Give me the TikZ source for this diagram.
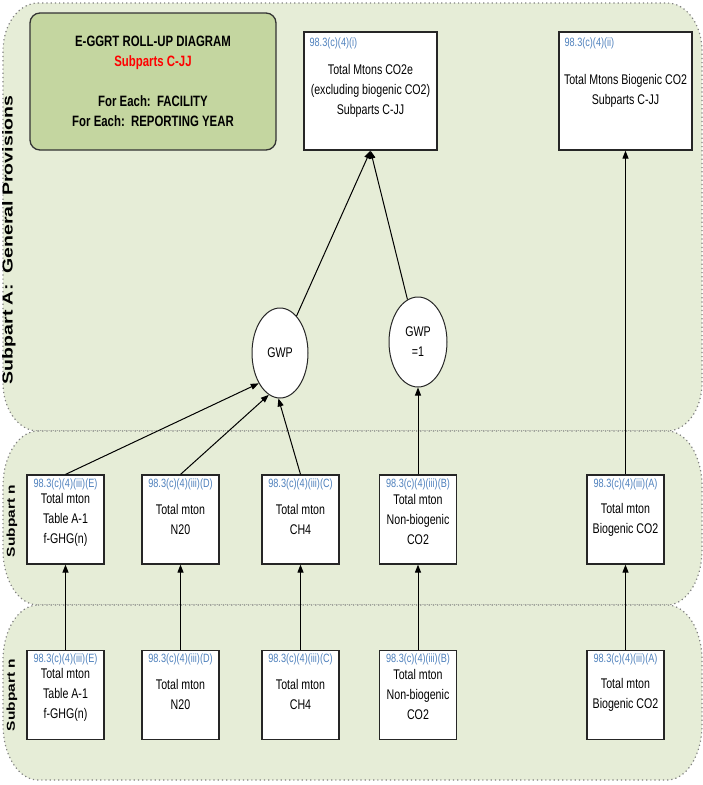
\documentclass[tikz,border=0pt]{standalone}
\usepackage{fontspec}
\usepackage{graphicx}
\setmainfont{Liberation Sans}
\newfontfamily\narrowsf{Liberation Sans}[FakeStretch=0.76]
\definecolor{bandgreen}{HTML}{E6EDD7}
\definecolor{titlegreen}{HTML}{C4D6A0}
\definecolor{codeblue}{HTML}{4F81BD}
\definecolor{titlered}{HTML}{FF0000}
\usetikzlibrary{shapes.geometric,arrows.meta,positioning}

\begin{document}
\begin{tikzpicture}[x=1pt, y=1pt,
  band/.style={draw=gray, line width=1.2pt, dash pattern=on 1.2pt off 3pt,
    fill=bandgreen, x radius=35},
  titlebox/.style={draw=black!80, fill=titlegreen, line width=1.3pt,
    rounded corners=10pt, minimum width=246pt, minimum height=137pt,
    align=center, font=\narrowsf\bfseries\fontsize{15}{20}\selectfont},
  box/.style={draw=black!85, fill=white, line width=1.2pt,
    minimum width=77pt, minimum height=89pt, align=center,
    font=\narrowsf\fontsize{14}{20}\selectfont},
  bigbox/.style={box, minimum width=133pt, minimum height=118pt},
  code/.style={text=codeblue, inner sep=1pt,
    font=\narrowsf\fontsize{12}{13}\selectfont},
  gwpnode/.style={ellipse, draw=black!85, fill=white, line width=1pt,
    minimum width=56pt, minimum height=90pt, inner sep=0pt, align=center,
    font=\narrowsf\fontsize{14}{20}\selectfont},
  arr/.style={-{Triangle[length=8pt,width=6pt]}, line width=1pt},
  side/.style={rotate=90, font=\bfseries\fontsize{#1}{#1}\selectfont}
]
  \useasboundingbox (0,0) rectangle (703,-785);

  % Bands
  \draw[band, y radius=48] (38,-3) -- (667,-3) arc[start angle=90, end angle=0]
    -- (702,-383) arc[start angle=0, end angle=-90]
    -- (38,-431) arc[start angle=270, end angle=180]
    -- (3,-51) arc[start angle=180, end angle=90] -- cycle;
  \draw[band, y radius=55] (38,-431) -- (667,-431) arc[start angle=90, end angle=0]
    -- (702,-550) arc[start angle=0, end angle=-90]
    -- (38,-605) arc[start angle=270, end angle=180]
    -- (3,-486) arc[start angle=180, end angle=90] -- cycle;
  \draw[band, y radius=55] (38,-605) -- (667,-605) arc[start angle=90, end angle=0]
    -- (702,-725) arc[start angle=0, end angle=-90]
    -- (38,-780) arc[start angle=270, end angle=180]
    -- (3,-660) arc[start angle=180, end angle=90] -- cycle;

  \node[side=19.5] (sideA) at (9,-240) {\scalebox{1}[0.74]{Subpart A:\ \ General Provisions}};
  \node[side=15.5] (sideN1) at (12,-521) {\scalebox{1}[0.74]{Subpart n}};
  \node[side=15.5] (sideN2) at (12,-695) {\scalebox{1}[0.74]{Subpart n}};

  % Title
  \node[titlebox] (title) at (153,-81.5) {E-GGRT ROLL-UP DIAGRAM\\
    \textcolor{titlered}{Subparts C-JJ}\\[20pt]
    For Each:\ \ FACILITY\\For Each:\ \ REPORTING YEAR};

  % Totals
  \node[bigbox] (co2e) at (370.5,-91) {Total Mtons CO2e\\(excluding biogenic CO2)\\Subparts C-JJ};
  \node[bigbox] (bio) at (625.5,-91) {Total Mtons Biogenic CO2\\Subparts C-JJ};
  \node[code, below right=5pt and 5pt of co2e.north west] (co2e-code) {98.3(c)(4)(i)};
  \node[code, below right=5pt and 5pt of bio.north west] (bio-code) {98.3(c)(4)(ii)};

  \node[gwpnode] (gwp) at (280,-353) {GWP};
  \node[gwpnode, minimum width=58pt] (gwp1) at (418,-342) {GWP\\=1};

  % Subpart rows
  \node[box] (mE) at (65.5,-519.5) {Total mton\\Table A-1\\f-GHG(n)};
  \node[box] (mD) at (180.5,-519.5) {Total mton\\N20};
  \node[box] (mC) at (300.5,-519.5) {Total mton\\CH4};
  \node[box] (mB) at (418,-519.5) {Total mton\\Non-biogenic\\CO2};
  \node[box] (mA) at (625.5,-519.5) {Total mton\\Biogenic CO2};

  \node[box, below=85pt of mE] (bE) {Total mton\\Table A-1\\f-GHG(n)};
  \node[box, below=85pt of mD] (bD) {Total mton\\N20};
  \node[box, below=85pt of mC] (bC) {Total mton\\CH4};
  \node[box, below=85pt of mB] (bB) {Total mton\\Non-biogenic\\CO2};
  \node[box, below=85pt of mA] (bA) {Total mton\\Biogenic CO2};

  \node[code, below=3pt of mE.north] (mE-code) {98.3(c)(4)(iii)(E)};
  \node[code, below=3pt of mD.north] (mD-code) {98.3(c)(4)(iii)(D)};
  \node[code, below=3pt of mC.north] (mC-code) {98.3(c)(4)(iii)(C)};
  \node[code, below=3pt of mB.north] (mB-code) {98.3(c)(4)(iii)(B)};
  \node[code, below=3pt of mA.north] (mA-code) {98.3(c)(4)(iii)(A)};
  \node[code, below=3pt of bE.north] (bE-code) {98.3(c)(4)(iii)(E)};
  \node[code, below=3pt of bD.north] (bD-code) {98.3(c)(4)(iii)(D)};
  \node[code, below=3pt of bC.north] (bC-code) {98.3(c)(4)(iii)(C)};
  \node[code, below=3pt of bB.north] (bB-code) {98.3(c)(4)(iii)(B)};
  \node[code, below=3pt of bA.north] (bA-code) {98.3(c)(4)(iii)(A)};

  % Roll-up arrows
  \draw[arr] (gwp) -- (co2e.south);
  \draw[arr] (gwp1) -- (co2e.south);
  \draw[arr] (mA) -- (bio);
  \draw[arr] (mE.north) -- (gwp.235);
  \draw[arr] (mD.north) -- (gwp.255);
  \draw[arr] (mC.north) -- (gwp.268);
  \draw[arr] (mB) -- (gwp1);
  \draw[arr] (bE) -- (mE);
  \draw[arr] (bD) -- (mD);
  \draw[arr] (bC) -- (mC);
  \draw[arr] (bB) -- (mB);
  \draw[arr] (bA) -- (mA);
\end{tikzpicture}
\end{document}
